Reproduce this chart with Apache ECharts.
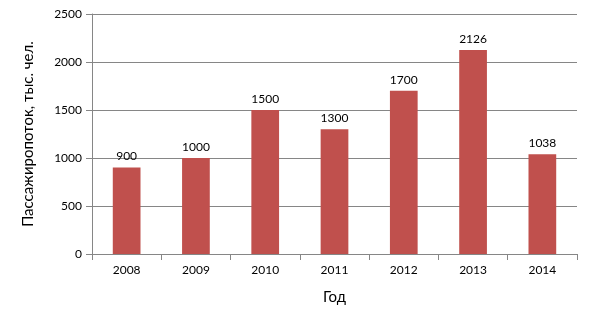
<!DOCTYPE html>
<html><head><meta charset="utf-8">
<script src="https://cdn.jsdelivr.net/npm/echarts@6/dist/echarts.min.js"></script>
<style>html,body{margin:0;padding:0;background:#fff}#c{width:589px;height:325px}</style>
</head><body><div id="c"></div>
<script>
const categories = ['2008','2009','2010','2011','2012','2013','2014'];
const values = [900, 1000, 1500, 1300, 1700, 2126, 1038];
const yTicks = [0, 500, 1000, 1500, 2000, 2500];

const chart = echarts.init(document.getElementById('c'));
const font = 'Lato, "Open Sans", sans-serif';
chart.setOption({
  animation: false,
  textStyle: {fontFamily: font},
  grid: {left: 92, right: 12, top: 14, bottom: 71},
  xAxis: {
    type: 'category', data: categories,
    name: 'Год', nameLocation: 'middle', nameGap: 36,
    nameTextStyle: {fontSize: 15, color: '#000', fontFamily: font},
    axisLine: {lineStyle: {color: '#868686'}},
    axisTick: {show: true, length: 6, lineStyle: {color: '#868686'}},
    axisLabel: {fontSize: 12, color: '#000', margin: 10, fontFamily: font}
  },
  yAxis: {
    type: 'value', min: 0, max: 2500, interval: 500,
    name: 'Пассажиропоток, тыс. чел.', nameLocation: 'middle', nameGap: 56,
    nameTextStyle: {fontSize: 15, color: '#000', fontFamily: font},
    axisLine: {show: true, lineStyle: {color: '#868686'}},
    axisTick: {show: true, length: 6, lineStyle: {color: '#868686'}},
    axisLabel: {fontSize: 12, color: '#000', margin: 10, fontFamily: font,
      formatter: v => yTicks.includes(v) ? String(v) : ''},
    splitLine: {lineStyle: {color: '#868686'}}
  },
  series: [{
    type: 'bar', data: values, barWidth: '40%',
    itemStyle: {color: '#C0504D'},
    label: {show: true, position: 'top', distance: 5, fontSize: 12, color: '#000', fontFamily: font}
  }]
});
</script></body></html>
